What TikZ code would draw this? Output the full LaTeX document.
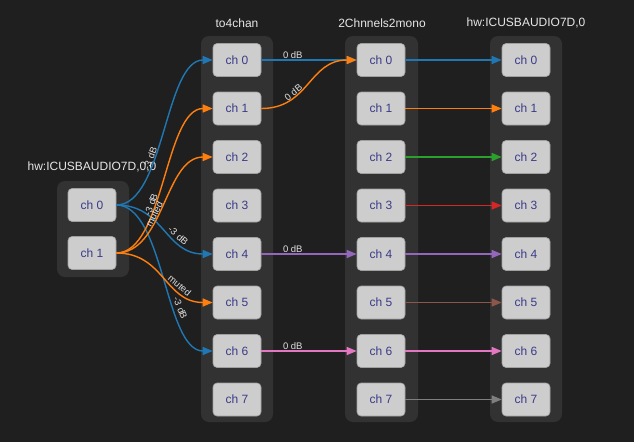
\documentclass[tikz,border=0pt]{standalone}
\usepackage{fontspec}
\setmainfont{Liberation Sans}
\usetikzlibrary{arrows.meta}
\definecolor{bg}{HTML}{1F1F1F}
\definecolor{panelc}{HTML}{323232}
\definecolor{nodefill}{HTML}{CDCDCD}
\definecolor{nodeline}{HTML}{A0A0A0}
\definecolor{nodetext}{HTML}{3A3A8A}
\definecolor{titlec}{HTML}{E6E6E6}
\definecolor{lblc}{HTML}{E0E0E0}
\definecolor{c0}{HTML}{1F77B4}
\definecolor{c1}{HTML}{FF7F0E}
\definecolor{c2}{HTML}{2CA02C}
\definecolor{c3}{HTML}{D62728}
\definecolor{c4}{HTML}{9467BD}
\definecolor{c5}{HTML}{8C564B}
\definecolor{c6}{HTML}{E377C2}
\definecolor{c7}{HTML}{7F7F7F}
\begin{document}
\begin{tikzpicture}[x=1pt,y=-1pt,
  chbox/.style={draw=nodeline, line width=0.6pt, fill=nodefill, rounded corners=4pt,
    minimum width=48pt, minimum height=33pt, inner sep=0pt, text=nodetext,
    font=\fontsize{12}{14}\selectfont},
  panelbox/.style={fill=panelc, rounded corners=8pt},
  grptitle/.style={text=titlec, font=\fontsize{12}{14}\selectfont, inner sep=0pt},
  conn/.style={line width=1.4pt, -{Triangle[length=10pt,width=8pt]}},
  lbl/.style={text=lblc, font=\fontsize{9.5}{11}\selectfont, inner sep=0.8pt, sloped, above}]
\fill[bg] (0,0) rectangle (634,442);
\useasboundingbox (0,0) rectangle (634,442);
% panels
\fill[panelbox] (57,181) rectangle (129,277);
\fill[panelbox] (201,36) rectangle (273,422);
\fill[panelbox] (345,36) rectangle (418,422);
\fill[panelbox] (490,36) rectangle (562,422);
% titles
\node[grptitle] (t0) at (92,167) {hw:ICUSBAUDIO7D,0,0};
\node[grptitle] (t1) at (237,23) {to4chan};
\node[grptitle] (t2) at (382,23) {2Chnnels2mono};
\node[grptitle] (t3) at (526,23) {hw:ICUSBAUDIO7D,0};
% source nodes
\node[chbox] (s0) at (92,205) {ch 0};
\node[chbox] (s1) at (92,253) {ch 1};
% columns
\foreach \i in {0,...,7}{
  \node[chbox] (a\i) at (237,{60+48.5*\i}) {ch \i};
  \node[chbox] (b\i) at (381,{60+48.5*\i}) {ch \i};
  \node[chbox] (c\i) at (526,{60+48.5*\i}) {ch \i};
}
% source -> to4chan
\draw[conn, c0] (s0.east) .. controls +(48,0) and +(-48,0) .. (a0.west) node[lbl, pos=0.37] {-3 dB};
\draw[conn, c0] (s0.east) .. controls +(48,0) and +(-48,0) .. (a4.west) node[lbl, pos=0.64] {-3 dB};
\draw[conn, c0] (s0.east) .. controls +(48,0) and +(-48,0) .. (a6.west) node[lbl, pos=0.65] {-3 dB};
\draw[conn, c1] (s1.east) .. controls +(48,0) and +(-48,0) .. (a1.west) node[lbl, pos=0.38] {-3 dB};
\draw[conn, c1] (s1.east) .. controls +(48,0) and +(-48,0) .. (a2.west) node[lbl, pos=0.42] {muted};
\draw[conn, c1] (s1.east) .. controls +(48,0) and +(-48,0) .. (a5.west) node[lbl, pos=0.66] {muted};
% to4chan -> 2Chnnels2mono
\draw[conn, c0] (a0.east) -- (b0.west) node[lbl, pos=0.33] {0 dB};
\draw[conn, c1] (a1.east) .. controls +(48,0) and +(-48,0) .. (b0.west) node[lbl, pos=0.33] {0 dB};
\draw[conn, c4] (a4.east) -- (b4.west) node[lbl, pos=0.33] {0 dB};
\draw[conn, c6] (a6.east) -- (b6.west) node[lbl, pos=0.33] {0 dB};
% 2Chnnels2mono -> hw out
\draw[conn, c0] (b0.east) -- (c0.west);
\draw[conn, c1] (b1.east) -- (c1.west);
\draw[conn, c2] (b2.east) -- (c2.west);
\draw[conn, c3] (b3.east) -- (c3.west);
\draw[conn, c4] (b4.east) -- (c4.west);
\draw[conn, c5] (b5.east) -- (c5.west);
\draw[conn, c6] (b6.east) -- (c6.west);
\draw[conn, c7] (b7.east) -- (c7.west);
\end{tikzpicture}
\end{document}
